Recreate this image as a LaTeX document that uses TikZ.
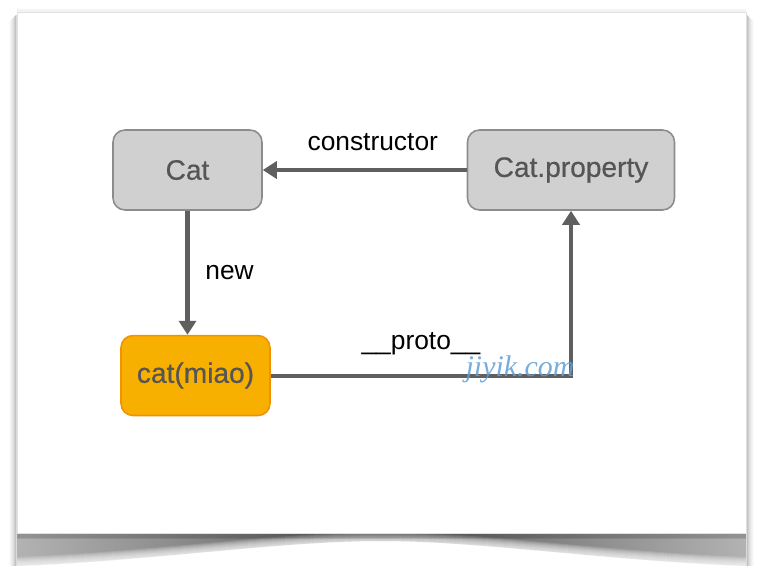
\documentclass[tikz,border=0pt]{standalone}
\usepackage{fontspec}
\setmainfont{Liberation Sans}
\newfontfamily\boxfont[FakeBold=0.5]{Liberation Sans}
\newfontfamily\wmfont{Liberation Serif}
\usepackage{tikz}
\usetikzlibrary{arrows.meta,positioning}
\usepackage{xcolor}
\definecolor{boxgray}{HTML}{D0D0D0}
\definecolor{boxline}{HTML}{8C8C8C}
\definecolor{boxtext}{HTML}{555555}
\definecolor{objfill}{HTML}{F8B000}
\definecolor{objline}{HTML}{F29200}
\definecolor{linkgray}{HTML}{5F5F5F}
\definecolor{wmblue}{HTML}{5F9FD6}

\begin{document}
\begin{tikzpicture}[x=0.02cm, y=-0.02cm, node distance=2.48cm and 4.08cm, every node/.style={font=\fontsize{15}{18}\selectfont}]
\tikzset{cls/.style={draw=boxline, fill=boxgray, rounded corners=0.24cm, line width=0.9pt, minimum width=2.98cm, minimum height=1.6cm, text=boxtext, font=\boxfont\fontsize{16}{19}\selectfont}}
\tikzset{obj/.style={cls, draw=objline, fill=objfill}}
\tikzset{link/.style={draw=linkgray, line width=2.3pt, -{Triangle[length=0.28cm,width=0.34cm]}}}
% page and card
\path[use as bounding box, fill=white] (0,0) rectangle (757,568);
\shade[left color=black!30, right color=black!30, middle color=black!65] (17,533) -- (746,533) -- (746,566) .. controls (600,560) and (480,541) .. (381,541) .. controls (280,541) and (160,560) .. (17,566) -- cycle;
\foreach \d in {1,...,9}
  \fill[white, opacity=0.14] (17,568) -- (17,566-\d) .. controls (160,560-\d) and (280,541-\d) .. (381,541-\d) .. controls (480,541-\d) and (600,560-\d) .. (746,566-\d) -- (746,568) -- cycle;
\foreach \d in {1,...,5}
  \draw[black, opacity=0.09, line width=1pt] (17,533+\d) -- (746,533+\d);
\foreach \d/\o in {1/0.14,2/0.11,3/0.08,4/0.06,5/0.04,6/0.025,7/0.015}
  \draw[black, opacity=\o, line width=1pt] (17-\d,566) -- (17-\d,14+\d) (746+\d,14+\d) -- (746+\d,566);
\foreach \d/\o in {1/0.04,2/0.02,3/0.01}
  \draw[black, opacity=\o, line width=1pt] (17,12-\d) -- (746,12-\d);
\fill[white] (17,12) rectangle (746,533);
\draw[black!12, line width=0.5pt] (17,12) rectangle (746,533);
% nodes
\node[cls] (cat) at (187.5,170) {Cat};
\node[cls, minimum width=4.14cm, right=of cat] (catprop) {Cat.property};
\node[obj, below=of cat, xshift=0.16cm] (miao) {cat(miao)};
% connectors
\draw[link] (catprop) -- node[midway, above=0.22cm, xshift=0.16cm, text=black] {constructor} (cat);
\draw[link] (cat) -- node[midway, right=0.2cm, text=black] {new} (cat |- miao.north);
\draw[link] (miao) -| node[pos=0.25, above=0.25cm, text=black] {\_\_proto\_\_} (catprop);
\node[font=\wmfont\itshape\fontsize{17}{20}\selectfont, text=wmblue, opacity=0.85] (wm) at (520,369) {jiyik.com};
\end{tikzpicture}
\end{document}
